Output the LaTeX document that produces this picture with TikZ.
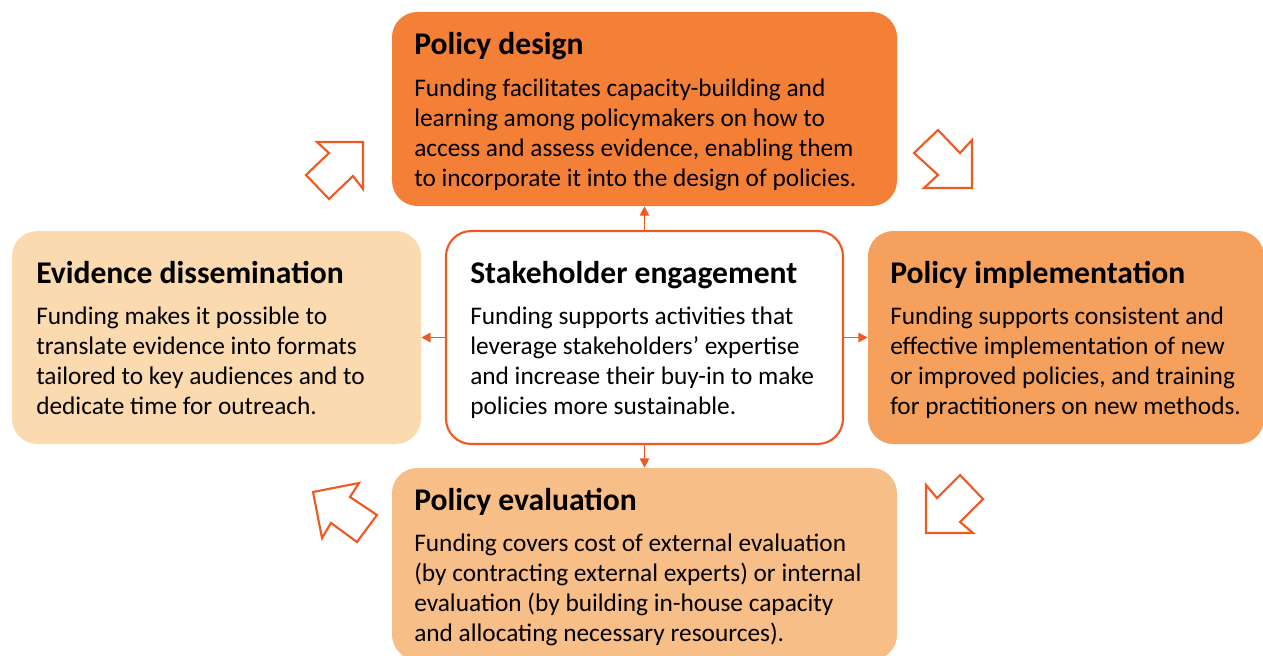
\documentclass[tikz,border=0pt]{standalone}
\usepackage{fontspec}
\setmainfont{Carlito}
\usetikzlibrary{arrows.meta}
\definecolor{cdesign}{HTML}{F47F36}
\definecolor{cimpl}{HTML}{F5A05C}
\definecolor{ceval}{HTML}{F8BE87}
\definecolor{cdiss}{HTML}{FADAAE}
\definecolor{cline}{HTML}{EF5A24}
\tikzset{
  box/.style={rounded corners=19pt, inner sep=0pt, draw=none},
  ttl/.style={anchor=base west, inner sep=0pt, font=\fontsize{23.7}{28}\selectfont\bfseries},
  body/.style={anchor=north west, inner sep=0pt, align=left, font=\fontsize{19}{22.5}\selectfont},
  link/.style={draw=cline, line width=1.4pt, -{Triangle[length=7pt,width=7pt]}},
  blockarrow/.style={draw=cline, line width=1.6pt, fill=white, line join=miter},
}
\begin{document}
\begin{tikzpicture}[x=0.75pt,y=-0.75pt]
\useasboundingbox (0,0) rectangle (1263,656);
\clip (0,0) rectangle (1263,656);
% boxes
\node[box, fill=cdesign, minimum width=505*0.75pt, minimum height=194*0.75pt] (design) at (644.5,109) {};
\node[box, fill=cdiss, minimum width=409*0.75pt, minimum height=213*0.75pt] (diss) at (216.5,337.5) {};
\node[box, fill=white, draw=cline, line width=1.6pt, minimum width=397*0.75pt, minimum height=213*0.75pt] (center) at (644.5,337.5) {};
\node[box, fill=cimpl, minimum width=396*0.75pt, minimum height=213*0.75pt] (impl) at (1066,337.5) {};
\node[box, fill=ceval, minimum width=505*0.75pt, minimum height=192*0.75pt] (eval) at (644.5,564) {};
% titles
\node[ttl] (t1) at (414,55) {Policy design};
\node[ttl] (t2) at (36,283) {Evidence dissemination};
\node[ttl] (t3) at (470,283) {Stakeholder engagement};
\node[ttl] (t4) at (890,283) {Policy implementation};
\node[ttl] (t5) at (414,510) {Policy evaluation};
% bodies
\node[body] (b1) at (414,79) {Funding facilitates capacity-building and\\learning among policymakers on how to\\access and assess evidence, enabling them\\to incorporate it into the design of policies.};
\node[body] (b2) at (36,307) {Funding makes it possible to\\translate evidence into formats\\tailored to key audiences and to\\dedicate time for outreach.};
\node[body] (b3) at (470,307) {Funding supports activities that\\leverage stakeholders’ expertise\\and increase their buy-in to make\\policies more sustainable.};
\node[body] (b4) at (890,307) {Funding supports consistent and\\effective implementation of new\\or improved policies, and training\\for practitioners on new methods.};
\node[body] (b5) at (414,534) {Funding covers cost of external evaluation\\(by contracting external experts) or internal\\evaluation (by building in-house capacity\\and allocating necessary resources).};
% connectors
\draw[link] (center.north) -- (design.south);
\draw[link] (center.west) -- (diss.east);
\draw[link] (center.east) -- (impl.east -| impl.west);
\draw[link] (center.south) -- (eval.north);
% block arrows
\draw[blockarrow] (317,142) -- (363,142) -- (363,189) -- (353,176) -- (329,199) -- (306,175) -- (329,153) -- cycle;
\draw[blockarrow] (938,130) -- (960,153) -- (972,140) -- (972,188) -- (924,188) -- (938,175) -- (914,153) -- cycle;
\draw[blockarrow] (313,492) -- (359,483) -- (350,497) -- (377,515) -- (357,542) -- (331,523) -- (322,538) -- cycle;
\draw[blockarrow] (926,485) -- (937,498) -- (960,475) -- (983,499) -- (960,522) -- (973,533) -- (926,533) -- cycle;
\end{tikzpicture}
\end{document}
